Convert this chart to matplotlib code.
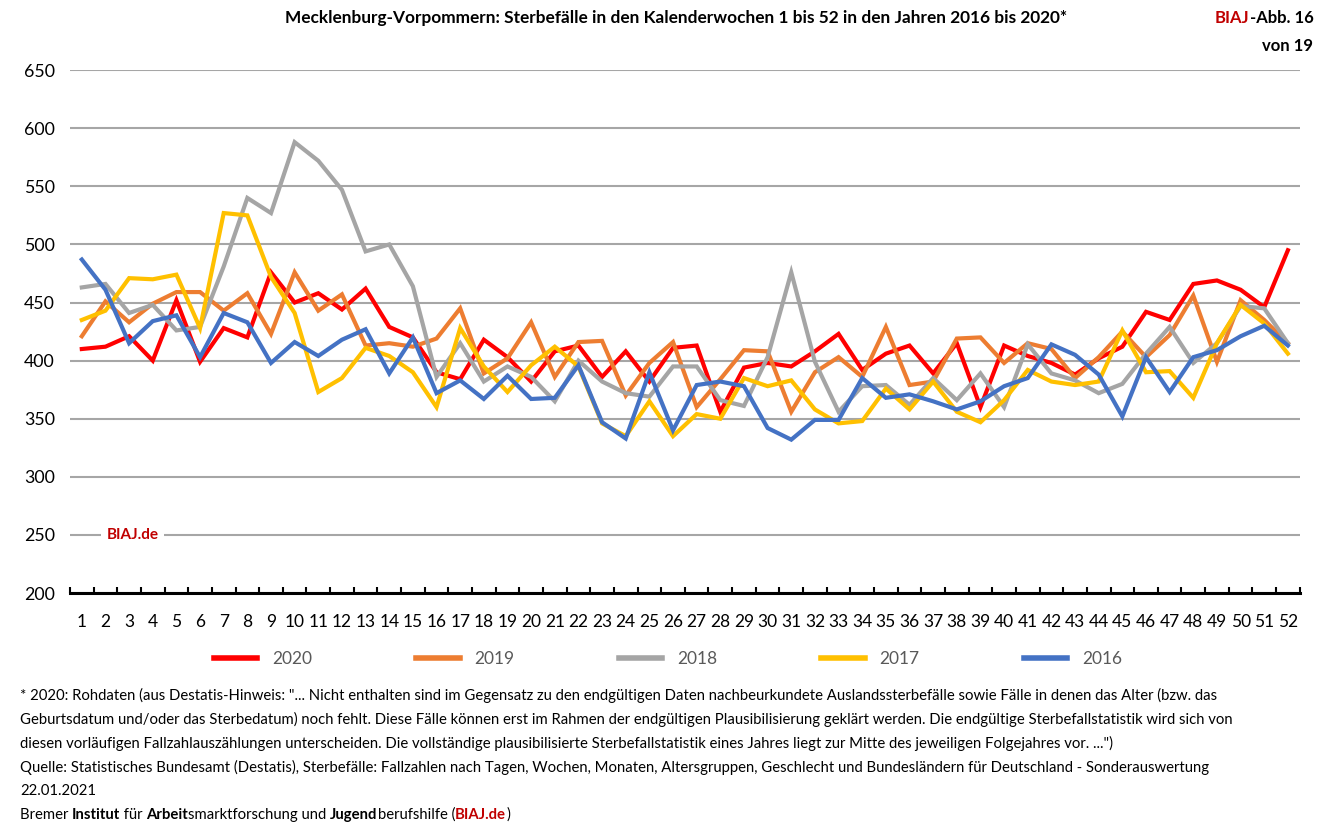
import matplotlib
matplotlib.use("Agg")
import matplotlib.pyplot as plt
from matplotlib.ticker import MultipleLocator, FixedLocator

plt.rcParams["font.family"] = ["Lato", "DejaVu Sans"]

weeks = list(range(1, 53))

deaths_2020 = [410, 412, 421, 400, 452, 399, 428, 420, 476, 450, 458, 444, 462, 429, 420, 390,
               384, 418, 403, 382, 408, 413, 386, 408, 382, 411, 413, 356, 394, 398, 395, 408,
               423, 392, 406, 413, 389, 415, 360, 413, 404, 398, 388, 402, 412, 442, 435, 466,
               469, 461, 446, 495]
deaths_2019 = [421, 451, 433, 449, 459, 459, 443, 458, 423, 476, 443, 457, 413, 415, 412, 419,
               445, 389, 402, 433, 386, 416, 417, 370, 398, 416, 360, 384, 409, 408, 356, 390,
               403, 386, 429, 379, 382, 419, 420, 398, 415, 410, 385, 403, 425, 403, 422, 456,
               399, 452, 435, 415]
deaths_2018 = [463, 466, 441, 448, 426, 429, 481, 540, 527, 588, 572, 547, 494, 500, 464, 386,
               415, 382, 395, 386, 365, 400, 382, 372, 369, 395, 395, 366, 361, 403, 476, 399,
               356, 378, 379, 362, 385, 366, 389, 360, 414, 389, 383, 372, 380, 406, 429, 398,
               415, 447, 445, 415]
deaths_2017 = [435, 443, 471, 470, 474, 428, 527, 525, 472, 441, 373, 385, 411, 404, 390, 360,
               428, 395, 373, 396, 412, 395, 346, 335, 365, 335, 354, 350, 385, 378, 383, 358,
               346, 348, 376, 358, 382, 356, 347, 366, 392, 382, 379, 382, 426, 390, 391, 368,
               415, 448, 432, 406]
deaths_2016 = [487, 461, 415, 434, 439, 403, 441, 433, 398, 416, 404, 418, 427, 389, 420, 372,
               383, 367, 387, 367, 368, 396, 347, 333, 390, 340, 379, 382, 378, 342, 332, 349,
               349, 385, 368, 371, 365, 358, 365, 378, 385, 414, 405, 388, 352, 403, 373, 403,
               409, 421, 430, 413]

series = [
    ("2020", deaths_2020, "#FF0000"),
    ("2019", deaths_2019, "#ED7D31"),
    ("2018", deaths_2018, "#A5A5A5"),
    ("2017", deaths_2017, "#FFC000"),
    ("2016", deaths_2016, "#4472C4"),
]

fig = plt.figure(figsize=(13.28, 8.3), dpi=100)
ax = fig.add_axes([0.0527, 0.2855, 0.926, 0.630])

for i, (label, vals, color) in enumerate(series):
    ax.plot(weeks, vals, color=color, lw=3.0, label=label, zorder=3 + i,
            solid_joinstyle="miter")

ax.set_xlim(0.5, 52.5)
ax.set_ylim(200, 650)
ax.yaxis.set_major_locator(MultipleLocator(50))
ax.set_xticks(weeks)
ax.xaxis.set_minor_locator(FixedLocator([w + 0.5 for w in range(0, 53)]))
ax.grid(axis="y", color="#A6A6A6", lw=1.5, zorder=1)
ax.set_axisbelow(True)
for s in ["top", "right", "left"]:
    ax.spines[s].set_visible(False)
ax.spines["bottom"].set_color("black")
ax.spines["bottom"].set_linewidth(2.2)
ax.spines["bottom"].set_zorder(10)
ax.tick_params(axis="y", length=0, pad=11, labelsize=12.8)
ax.tick_params(axis="x", which="major", length=0, pad=15, labelsize=12.5)
ax.tick_params(axis="x", which="minor", direction="in", length=4, width=1.5, color="black")

ax.text(0.03, 250, "BIAJ.de", transform=ax.get_yaxis_transform(), color="#C00000",
        weight="bold", fontsize=11, va="center", ha="left",
        bbox=dict(facecolor="white", edgecolor="none", pad=4), zorder=20)

leg = fig.legend(loc="center", bbox_to_anchor=(0.503, 0.206), ncol=5, frameon=False,
                 fontsize=12.5, handlelength=2.5, handletextpad=0.85, columnspacing=6.0)
for t in leg.get_texts():
    t.set_color("#595959")
for h in leg.get_lines():
    h.set_linewidth(4)

fig.text(0.509, 0.978, "Mecklenburg-Vorpommern: Sterbefälle in den Kalenderwochen 1 bis 52 in den Jahren 2016 bis 2020*",
         ha="center", va="center", weight="bold", fontsize=12.4)

renderer = fig.canvas.get_renderer()


def advance(s, size, weight):
    # width a string adds when set between other glyphs
    a = fig.text(0, 0, "x" + s + "x", fontsize=size, weight=weight)
    b = fig.text(0, 0, "xx", fontsize=size, weight=weight)
    w = a.get_window_extent(renderer).width - b.get_window_extent(renderer).width
    a.remove()
    b.remove()
    return w


def rich_line(x, y, parts, size):
    x = x * fig.bbox.width
    for s, w, c in parts:
        fig.text(x / fig.bbox.width, y, s, ha="left", va="center", fontsize=size,
                 weight=w, color=c)
        x += advance(s, size, w)


head_size = 12
w_head = advance("BIAJ", head_size, "bold") + advance("-Abb. 16", head_size, "bold")
rich_line(0.989 - w_head / fig.bbox.width, 0.978,
          [("BIAJ", "bold", "#C00000"), ("-Abb. 16", "bold", "black")], head_size)
fig.text(0.989, 0.945, "von 19", ha="right", va="center", weight="bold", fontsize=head_size)

notes = [
    '* 2020: Rohdaten (aus Destatis-Hinweis: "... Nicht enthalten sind im Gegensatz zu den endgültigen Daten nachbeurkundete Auslandssterbefälle sowie Fälle in denen das Alter (bzw. das',
    "Geburtsdatum und/oder das Sterbedatum) noch fehlt. Diese Fälle können erst im Rahmen der endgültigen Plausibilisierung geklärt werden. Die endgültige Sterbefallstatistik wird sich von",
    'diesen vorläufigen Fallzahlauszählungen unterscheiden. Die vollständige plausibilisierte Sterbefallstatistik eines Jahres liegt zur Mitte des jeweiligen Folgejahres vor. ...")',
    "Quelle: Statistisches Bundesamt (Destatis), Sterbefälle: Fallzahlen nach Tagen, Wochen, Monaten, Altersgruppen, Geschlecht und Bundesländern für Deutschland - Sonderauswertung",
    "22.01.2021",
]
note_size = 10.75
y0 = 1 - 695 / 830
step = 24 / 830
for i, line in enumerate(notes):
    fig.text(0.015, y0 - i * step, line, ha="left", va="center", fontsize=note_size)

# last line with mixed bold parts
parts = [("Bremer ", "normal", "black"), ("Institut", "bold", "black"),
         (" für ", "normal", "black"), ("Arbeit", "bold", "black"),
         ("smarktforschung und ", "normal", "black"), ("Jugend", "bold", "black"),
         ("berufshilfe (", "normal", "black"), ("BIAJ.de", "bold", "#C00000"),
         (")", "normal", "black")]
rich_line(0.015, y0 - 5 * step, parts, note_size)

fig.savefig("out.png", dpi=100)
